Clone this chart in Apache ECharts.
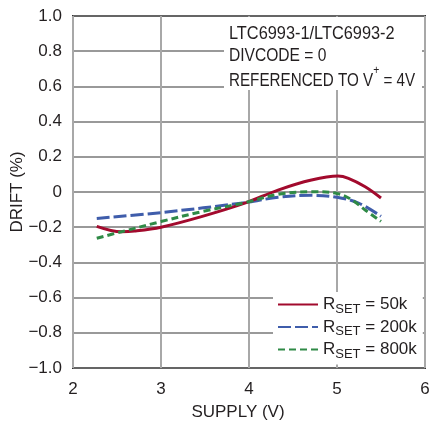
<!DOCTYPE html>
<html>
<head>
<meta charset="utf-8">
<script src="https://cdn.jsdelivr.net/npm/echarts@6/dist/echarts.min.js"></script>
<style>
  html, body { margin: 0; padding: 0; background: #fff; }
  #chart { width: 429px; height: 424px; }
</style>
</head>
<body>
<div id="chart"></div>
<script>
// data
var xTicks = ['2', '3', '4', '5', '6'];
var yTicks = ['\u22121.0', '\u22120.8', '\u22120.6', '\u22120.4', '\u22120.2', '0', '0.2', '0.4', '0.6', '0.8', '1.0'];

var rsetNames = ['50k', '200k', '800k'];

var supply50k = [2.27, 2.55, 2.70, 3.00, 3.46, 3.96, 4.33, 4.71, 5.01, 5.13, 5.32, 5.50];
var drift50k = [-0.195, -0.226, -0.222, -0.200, -0.140, -0.062, 0.011, 0.068, 0.091, 0.078, 0.030, -0.034];

var supply200k = [2.27, 3.00, 3.96, 4.33, 4.71, 5.00, 5.25, 5.50];
var drift200k = [-0.150, -0.117, -0.060, -0.030, -0.019, -0.030, -0.064, -0.138];

var supply800k = [2.27, 2.55, 3.00, 3.46, 3.96, 4.33, 4.71, 5.00, 5.17, 5.32, 5.50];
var drift800k = [-0.263, -0.226, -0.168, -0.112, -0.060, -0.013, 0.002, -0.008, -0.045, -0.102, -0.167];

var FONT = '"Liberation Sans", Arial, sans-serif';
var INK = '#231f20';

function pairs(xs, ys) {
    return xs.map(function (x, i) { return [x, ys[i]]; });
}

var chart = echarts.init(document.getElementById('chart'));

var option = {
    animation: false,
    grid: {
        left: 73, top: 16, right: 4, bottom: 56,
        outerBoundsMode: 'none', containLabel: false,
        show: true, borderColor: '#333', borderWidth: 2, backgroundColor: 'transparent'
    },
    xAxis: {
        type: 'value', min: 2, max: 6, interval: 1,
        name: 'SUPPLY (V)', nameLocation: 'middle', nameGap: 36, nameMoveOverlap: false,
        nameTextStyle: { fontFamily: FONT, fontSize: 17, color: INK, padding: [0, 22, 0, 0] },
        axisLine: { show: false },
        axisTick: { show: false },
        axisLabel: {
            margin: 13, fontFamily: FONT, fontSize: 17, color: INK,
            formatter: function (v, i) { return xTicks[i]; }
        },
        splitLine: { lineStyle: { color: '#a8a8a8', width: 2 } }
    },
    yAxis: {
        type: 'value', min: -1, max: 1, interval: 0.2,
        name: 'DRIFT (%)', nameLocation: 'middle', nameGap: 47, nameMoveOverlap: false,
        nameTextStyle: { fontFamily: FONT, fontSize: 17, color: INK },
        axisLine: { show: false },
        axisTick: { show: false },
        axisLabel: {
            margin: 11, fontFamily: FONT, fontSize: 17, color: INK,
            formatter: function (v, i) { return yTicks[i]; }
        },
        splitLine: { lineStyle: { color: '#777', width: 1.5 } }
    },
    legend: {
        orient: 'vertical', left: 273, top: 292,
        backgroundColor: '#fff', padding: [4, 6, 4, 4],
        itemWidth: 40, itemHeight: 14, itemGap: 3,
        itemStyle: { opacity: 0 },
        data: rsetNames,
        formatter: function (name) { return '{a|R}{b|SET}{a| = ' + name + '}'; },
        textStyle: {
            color: INK,
            rich: {
                a: { fontFamily: FONT, fontSize: 17, color: INK, lineHeight: 22, verticalAlign: 'middle' },
                b: { fontFamily: FONT, fontSize: 13, color: INK, lineHeight: 13, verticalAlign: 'bottom' }
            }
        }
    },
    graphic: [
        { type: 'rect', left: 224, top: 17, shape: { width: 198, height: 73 }, style: { fill: '#fff' }, z: 10 },
        { type: 'text', left: 229, top: 24, z: 11, scaleX: 0.86,
          style: { text: 'LTC6993-1/LTC6993-2', font: '19px ' + FONT, fill: INK } },
        { type: 'text', left: 229, top: 46, z: 11, scaleX: 0.82,
          style: { text: 'DIVCODE = 0', font: '19px ' + FONT, fill: INK } },
        { type: 'text', left: 229, top: 64, z: 11, scaleX: 0.8,
          style: {
              text: '{a|REFERENCED TO V}{s|+}{a| = 4V}',
              rich: {
                  a: { fontFamily: FONT, fontSize: 19, fill: INK, lineHeight: 26, verticalAlign: 'bottom' },
                  s: { fontFamily: FONT, fontSize: 13, fill: INK, lineHeight: 26, verticalAlign: 'top' }
              }
          } }
    ],
    series: [
        { name: rsetNames[0], type: 'line', smooth: 0.35, symbol: 'none', data: pairs(supply50k, drift50k),
          lineStyle: { color: '#a20a2d', width: 3 }, itemStyle: { color: '#a20a2d' }, z: 4 },
        { name: rsetNames[1], type: 'line', smooth: 0.35, symbol: 'none', data: pairs(supply200k, drift200k),
          lineStyle: { color: '#3f5dab', width: 3, type: [13, 4] }, itemStyle: { color: '#3f5dab' }, z: 3 },
        { name: rsetNames[2], type: 'line', smooth: 0.35, symbol: 'none', data: pairs(supply800k, drift800k),
          lineStyle: { color: '#2f8a46', width: 3, type: [7, 4] }, itemStyle: { color: '#2f8a46' }, z: 5 }
    ]
};

chart.setOption(option);
</script>
</body>
</html>
